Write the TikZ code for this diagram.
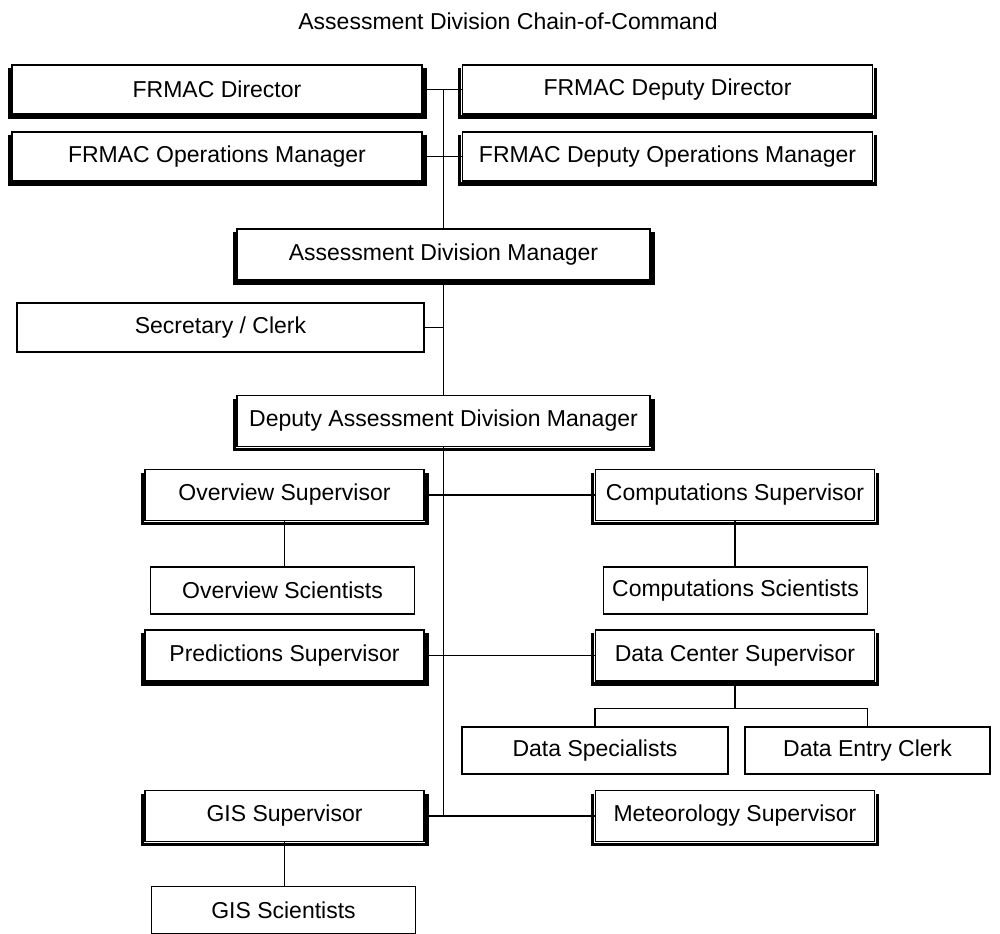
\documentclass[tikz,border=0pt]{standalone}
\usepackage{fontspec}
\setmainfont{Liberation Sans}
\usetikzlibrary{positioning,calc}

\begin{document}
\begin{tikzpicture}[
  x=0.5pt,y=-0.5pt,
  box/.style={rectangle,draw=black,line width=0.7pt,inner sep=0pt,
              minimum height=24.5pt,align=center,font=\fontsize{11.5}{13}\selectfont},
  topbox/.style={box,minimum width=205pt},
  divbox/.style={box,minimum width=206.5pt,minimum height=25.5pt},
  supbox/.style={box,minimum width=139.5pt,minimum height=25.5pt},
  staffbox/.style={box,minimum width=132pt,minimum height=23.5pt},
  conn/.style={draw=black,line width=0.7pt},
  rim/.style={draw=black,line width=1.6pt},
]
\useasboundingbox (0,0) rectangle (1000,933);

\node[font=\fontsize{11.5}{13}\selectfont] (title) at (508,21) {Assessment Division Chain-of-Command};

\node[topbox] (dir)  at (217,89.5)   {FRMAC Director};
\node[topbox] (ddir) at (667.5,89.5) {FRMAC Deputy Director};
\node[topbox] (ops)  at (217,156.5)  {FRMAC Operations Manager};
\node[topbox] (dops) at (667.5,156.5) {FRMAC Deputy Operations Manager};

\node[divbox] (adm)  at (443.5,254.5) {Assessment Division Manager};
\node[box,minimum width=203.5pt] (sec) at (220.5,327.5) {Secretary / Clerk};
\node[divbox] (dadm) at (443.5,421)   {Deputy Assessment Division Manager};

\node[supbox]   (ovs)  at (284.5,495)   {Overview Supervisor};
\node[supbox]   (cos)  at (735,495)     {Computations Supervisor};
\node[staffbox] (ovsc) at (282.5,590.5) {Overview Scientists};
\node[staffbox] (cosc) at (735.5,590.5) {Computations Scientists};
\node[supbox]   (prs)  at (284.5,655.5) {Predictions Supervisor};
\node[supbox]   (dcs)  at (735,655.5)   {Data Center Supervisor};
\node[staffbox,minimum width=133pt]   (dsp) at (595,750.5)   {Data Specialists};
\node[staffbox,minimum width=122.5pt] (dec) at (867.5,750.5) {Data Entry Clerk};
\node[supbox]   (gis)  at (284.5,816)   {GIS Supervisor};
\node[supbox]   (met)  at (735,816)     {Meteorology Supervisor};
\node[staffbox] (gisc) at (283.5,910)   {GIS Scientists};

\foreach \n in {dir,ddir,ops,dops,adm,dadm,ovs,cos,prs,dcs,gis,met}
  \draw[rim] ([shift={(-1.1pt,-2pt)}]\n.north west) -- ([shift={(-1.1pt,-1.1pt)}]\n.south west)
    -- ([shift={(1.1pt,-1.1pt)}]\n.south east) -- ([shift={(1.1pt,-2pt)}]\n.north east);

\draw[conn] (dir.east) -- (ddir.west);
\draw[conn] (ops.east) -- (dops.west);
\draw[conn] (adm.north) -- (adm.north |- dir.east);
\draw[conn] (adm.south) -- (dadm.north);
\draw[conn] (sec.east) -- (sec.east -| adm.south);
\draw[conn] (dadm.south) -- (dadm.south |- gis.east);
\draw[conn] (ovs.east) -- (cos.west);
\draw[conn] (prs.east) -- (dcs.west);
\draw[conn] (gis.east) -- (met.west);
\draw[conn] (ovs.south) -- (ovs.south |- ovsc.north);
\draw[conn] (cos.south) -- (cos.south |- cosc.north);
\draw[conn] (gis.south) -- (gis.south |- gisc.north);
\coordinate (dsplit) at ($(dcs.south)+(0,27)$);
\draw[conn] (dcs.south) -- (dsplit);
\draw[conn] (dsp.north) |- (dsplit) -| (dec.north);

\end{tikzpicture}
\end{document}
